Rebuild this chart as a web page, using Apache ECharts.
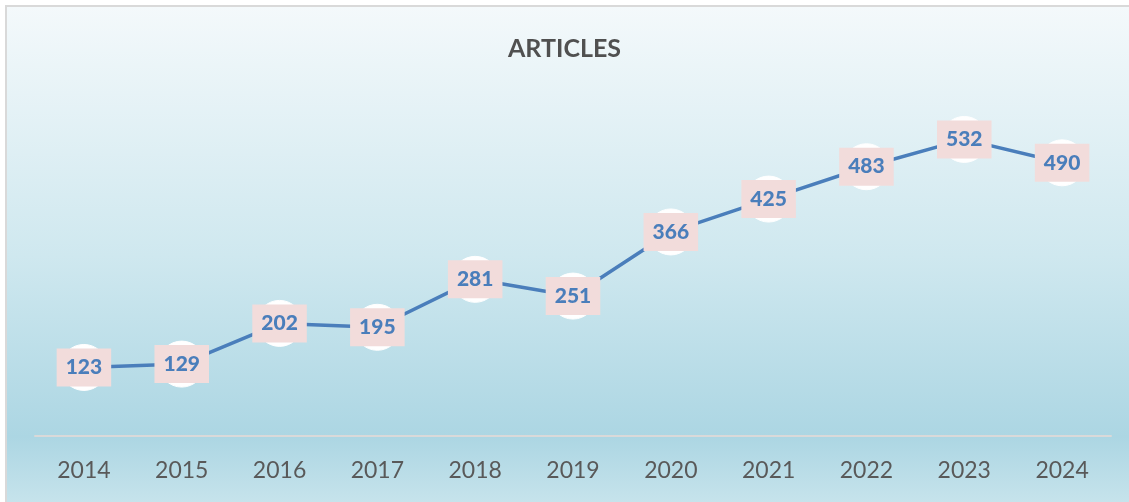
<!DOCTYPE html>
<html><head><meta charset="utf-8">
<script src="https://cdn.jsdelivr.net/npm/echarts@6/dist/echarts.min.js"></script>
<style>html,body{margin:0;padding:0;background:#fff}#c{width:1129px;height:502px}</style>
</head><body><div id="c"></div>
<script>
const years = ['2014','2015','2016','2017','2018','2019','2020','2021','2022','2023','2024'];
const articles = [123,129,202,195,281,251,366,425,483,532,490];
const chartTitle = 'ARTICLES';

const chart = echarts.init(document.getElementById('c'));
chart.setOption({
  animation: false,
  graphic: [{
    type: 'rect', z: -10, silent: true,
    shape: {x: 6, y: 6, width: 1130, height: 500},
    style: {
      fill: new echarts.graphic.LinearGradient(0,0,0,1,[
        {offset:0, color:'#F4F9FB'},
        {offset:0.5, color:'#CFE8EF'},
        {offset:0.86, color:'#ACD6E3'},
        {offset:1, color:'#C8E4EC'}
      ]),
      stroke: '#D9D9D9', lineWidth: 2
    }
  }],
  title: {
    text: chartTitle, left: 'center', top: 31,
    textStyle: {fontFamily: 'Lato', fontSize: 25, fontWeight: 'bold', color: '#505050'}
  },
  grid: {left: 35, right: 18, top: 101.5, bottom: 66},
  xAxis: {
    type: 'category', data: years, boundaryGap: true,
    axisLine: {lineStyle: {color: '#D9D9D9', width: 2}},
    axisTick: {show: false},
    axisLabel: {fontFamily: 'Lato', fontSize: 23, color: '#595959', margin: 23}
  },
  yAxis: {type: 'value', min: 0, max: 600, show: false, splitLine: {show: false}},
  series: [{
    type: 'line', data: articles,
    lineStyle: {color: '#4A7EBB', width: 3.5},
    itemStyle: {color: '#FFFFFF', borderColor: '#FFFFFF'},
    symbol: 'circle', symbolSize: 46,
    label: {
      show: true, position: 'inside',
      fontFamily: 'Lato', fontWeight: 900, fontSize: 21, color: '#4A7EBB',
      backgroundColor: '#F2DCDB', padding: [8, 9], lineHeight: 22
    }
  }]
});
</script></body></html>
